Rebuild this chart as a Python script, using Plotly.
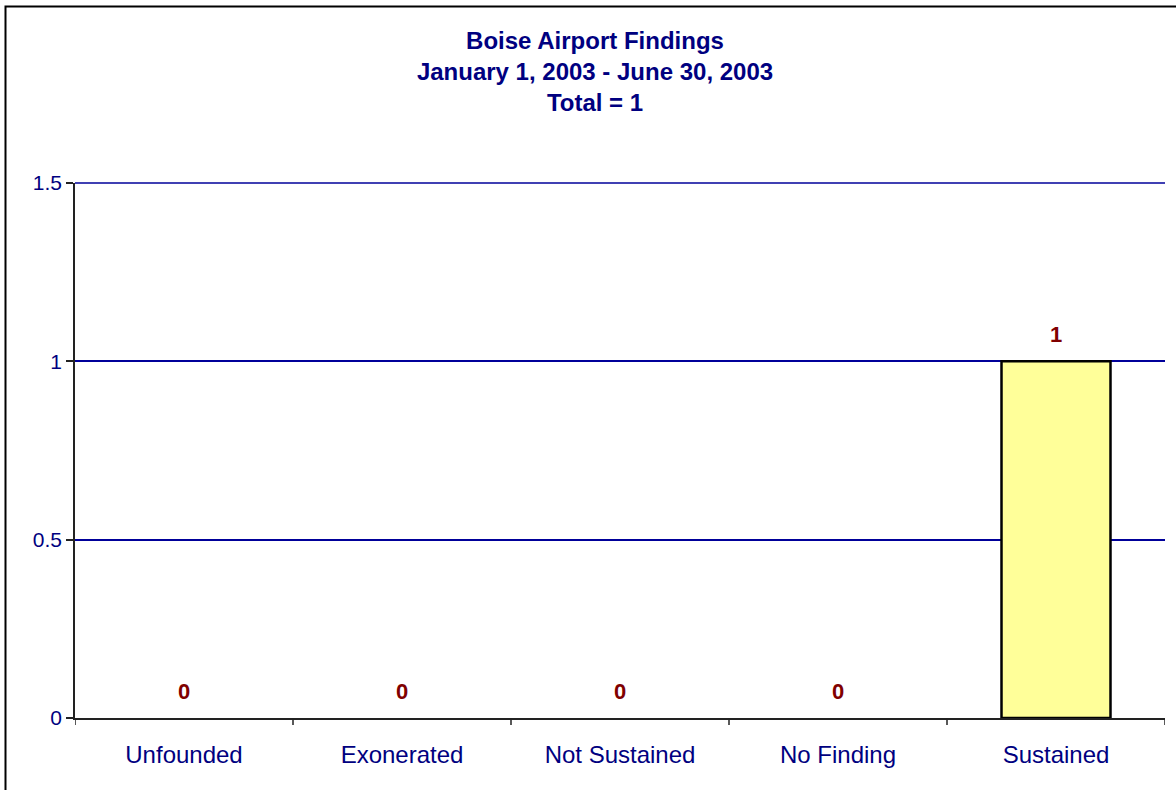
import plotly.graph_objects as go

categories = ["Unfounded", "Exonerated", "Not Sustained", "No Finding", "Sustained"]
values = [0, 0, 0, 0, 1]
y_ticks = [0, 0.5, 1, 1.5]
y_tick_labels = ["0", "0.5", "1", "1.5"]
title_lines = ["Boise Airport Findings", "January 1, 2003 - June 30, 2003", "Total = 1"]

W, H = 1176, 790
L, R, T, B = 75, 11, 183, 72
pw, ph = W - L - R, H - T - B

NAVY = "#000080"
GRID = "#00009A"
FONT = "Liberation Sans, Arial, sans-serif"

fig = go.Figure()
fig.add_trace(go.Bar(
    x=categories, y=values, width=0.5,
    marker=dict(color="#FFFF99",
                line=dict(color="black", width=[0 if v == 0 else 2.5 for v in values])),
    hoverinfo="skip",
))

annotations = [dict(x=c, y=v, xref="x", yref="y", text=f"<b>{v}</b>", showarrow=False,
                    yanchor="middle", yshift=27,
                    font=dict(family=FONT, size=22, color="#800000"))
               for c, v in zip(categories, values)]

def px2paper_x(px):
    return (px - L) / pw

def px2paper_y(py):
    return (H - B - py) / ph

shapes = [dict(type="rect", xref="paper", yref="paper",
               x0=px2paper_x(5.5), x1=px2paper_x(1185), y0=px2paper_y(800), y1=px2paper_y(6.5),
               line=dict(color="black", width=2), fillcolor="rgba(0,0,0,0)", layer="below")]
# top gridline at the top of the value range (plotly skips the grid line at the range edge)
shapes.append(dict(type="line", xref="paper", yref="paper", x0=0, x1=1, y0=1, y1=1,
                   line=dict(color=GRID, width=1.5), layer="above"))
# category boundary ticks on x axis
for i in range(len(categories) + 1):
    shapes.append(dict(type="line", xref="x", yref="paper", x0=i - 0.5, x1=i - 0.5,
                       y0=0, y1=-7 / ph, line=dict(color="#222222", width=1.5)))

fig.update_layout(
    width=W, height=H,
    margin=dict(l=L, r=R, t=T, b=B, pad=0),
    paper_bgcolor="white", plot_bgcolor="white",
    showlegend=False,
    font=dict(family=FONT, color=NAVY, size=22),
    title=dict(text="<br>".join(f"<b>{t}</b>" for t in title_lines),
               x=595 / W, xanchor="center", y=1 - 49 / H, yanchor="top",
               font=dict(family=FONT, size=24, color=NAVY)),
    xaxis=dict(range=[-0.5, len(categories) - 0.5], showgrid=False, ticks="",
               showline=True, linecolor="#222222", linewidth=1.5,
               tickfont=dict(family=FONT, size=24, color=NAVY), ticklabelstandoff=14,
               fixedrange=True),
    yaxis=dict(range=[0, y_ticks[-1]], tickvals=y_ticks, ticktext=y_tick_labels,
               showgrid=True, gridcolor=GRID, gridwidth=1.5,
               showline=True, linecolor="#222222", linewidth=1.5,
               ticks="outside", ticklen=7, tickcolor="#222222", tickwidth=1.5,
               tickfont=dict(family=FONT, size=21, color=NAVY), zeroline=False,
               fixedrange=True),
    shapes=shapes,
    annotations=annotations,
)

fig.write_html("out.html", config={"displayModeBar": False},
               post_script="document.body.style.margin='0px';")
